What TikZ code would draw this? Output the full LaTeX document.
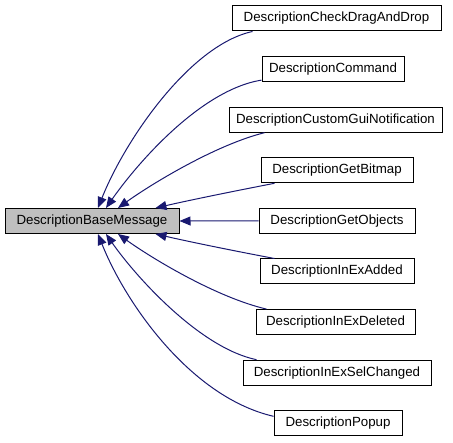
\documentclass[tikz,border=0pt]{standalone}
\usepackage{fontspec}
\setmainfont{Liberation Sans}
\usetikzlibrary{arrows.meta}
\definecolor{edgeblue}{RGB}{25,25,112}
\definecolor{basegray}{RGB}{191,191,191}
\begin{document}
\begin{tikzpicture}[x=1pt,y=-1pt,
  cls/.style={draw=black, line width=1pt, minimum height=25pt, inner sep=0pt,
    font=\fontsize{13.3}{16}\selectfont},
  inh/.style={draw=edgeblue, line width=1pt,
    arrows={Triangle[length=11pt,width=9pt,fill=edgeblue]-}}]
\useasboundingbox (0,0) rectangle (453,443);
\node[cls, fill=basegray, minimum width=174pt] (base) at (92,221) {DescriptionBaseMessage};
\node[cls, minimum width=209pt] (n1) at (336.5,18.5) {DescriptionCheckDragAndDrop};
\node[cls, minimum width=142pt] (n2) at (333,69.1) {DescriptionCommand};
\node[cls, minimum width=213pt] (n3) at (335.5,119.7) {DescriptionCustomGuiNotification};
\node[cls, minimum width=152pt] (n4) at (337,170.3) {DescriptionGetBitmap};
\node[cls, minimum width=156pt] (n5) at (337,220.9) {DescriptionGetObjects};
\node[cls, minimum width=154pt] (n6) at (337,271.5) {DescriptionInExAdded};
\node[cls, minimum width=159pt] (n7) at (335.5,322.1) {DescriptionInExDeleted};
\node[cls, minimum width=188pt] (n8) at (337,372.7) {DescriptionInExSelChanged};
\node[cls, minimum width=128pt] (n9) at (338,423.3) {DescriptionPopup};
\draw[inh] ([xshift=6pt]base.north) .. controls (125,140) and (190,45) .. ([xshift=21pt]n1.south west);
\draw[inh] ([xshift=14pt]base.north) .. controls (136,165) and (200,90) .. ([yshift=2pt]n2.south west);
\draw[inh] ([xshift=26pt]base.north) .. controls (150,185) and (215,145) .. ([xshift=36pt]n3.south west);
\draw[inh] ([xshift=-24pt]base.north east) .. controls (195,199) and (240,190) .. ([xshift=14pt]n4.south west);
\draw[inh] (base.east) -- (n5.west);
\draw[inh] ([xshift=-24pt]base.south east) .. controls (195,243) and (240,252) .. ([xshift=15pt]n6.north west);
\draw[inh] ([xshift=26pt]base.south) .. controls (150,257) and (215,297) .. ([xshift=11pt]n7.north west);
\draw[inh] ([xshift=14pt]base.south) .. controls (136,277) and (200,348) .. ([xshift=14pt]n8.north west);
\draw[inh] ([xshift=6pt]base.south) .. controls (125,302) and (190,397) .. ([yshift=-6pt]n9.north west);
\end{tikzpicture}
\end{document}
